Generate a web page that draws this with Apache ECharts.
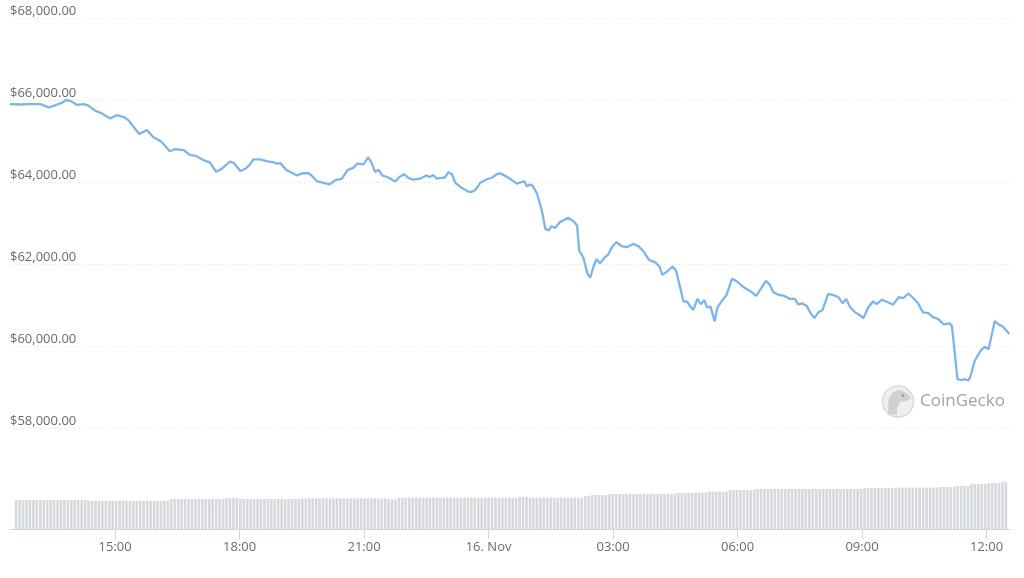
<!DOCTYPE html>
<html>
<head>
<meta charset="utf-8">
<script src="https://cdn.jsdelivr.net/npm/echarts@6.0.0/dist/echarts.min.js"></script>
<style>
  html, body { margin: 0; padding: 0; background: #ffffff; }
  #chart { width: 1024px; height: 578px; }
</style>
</head>
<body>
<div id="chart"></div>
<script>
// ---- Data ----
const priceTimes = [
  '2021-11-15 12:28','2021-11-15 12:43','2021-11-15 12:57','2021-11-15 13:12','2021-11-15 13:19','2021-11-15 13:24',
  '2021-11-15 13:33','2021-11-15 13:43','2021-11-15 13:49','2021-11-15 13:55','2021-11-15 14:05','2021-11-15 14:14',
  '2021-11-15 14:21','2021-11-15 14:31','2021-11-15 14:41','2021-11-15 14:53','2021-11-15 15:02','2021-11-15 15:12',
  '2021-11-15 15:19','2021-11-15 15:26','2021-11-15 15:35','2021-11-15 15:46','2021-11-15 15:55','2021-11-15 16:07',
  '2021-11-15 16:19','2021-11-15 16:27','2021-11-15 16:39','2021-11-15 16:48','2021-11-15 16:58','2021-11-15 17:08',
  '2021-11-15 17:17','2021-11-15 17:26','2021-11-15 17:34','2021-11-15 17:46','2021-11-15 17:52','2021-11-15 18:01',
  '2021-11-15 18:09','2021-11-15 18:15','2021-11-15 18:20','2021-11-15 18:30','2021-11-15 18:39','2021-11-15 18:49',
  '2021-11-15 18:54','2021-11-15 18:59','2021-11-15 19:08','2021-11-15 19:15','2021-11-15 19:23','2021-11-15 19:30',
  '2021-11-15 19:39','2021-11-15 19:44','2021-11-15 19:52','2021-11-15 20:01','2021-11-15 20:10','2021-11-15 20:18',
  '2021-11-15 20:28','2021-11-15 20:36','2021-11-15 20:45','2021-11-15 20:50','2021-11-15 20:59','2021-11-15 21:06',
  '2021-11-15 21:11','2021-11-15 21:16','2021-11-15 21:21','2021-11-15 21:26','2021-11-15 21:35','2021-11-15 21:45',
  '2021-11-15 21:51','2021-11-15 21:58','2021-11-15 22:04','2021-11-15 22:11','2021-11-15 22:21','2021-11-15 22:30',
  '2021-11-15 22:35','2021-11-15 22:40','2021-11-15 22:45','2021-11-15 22:52','2021-11-15 22:57','2021-11-15 23:02',
  '2021-11-15 23:07','2021-11-15 23:12','2021-11-15 23:21','2021-11-15 23:31','2021-11-15 23:36','2021-11-15 23:41',
  '2021-11-15 23:48','2021-11-15 23:57',
  '2021-11-16 00:05','2021-11-16 00:12','2021-11-16 00:17','2021-11-16 00:24','2021-11-16 00:31','2021-11-16 00:41',
  '2021-11-16 00:48','2021-11-16 00:52','2021-11-16 00:55','2021-11-16 01:00','2021-11-16 01:04','2021-11-16 01:10',
  '2021-11-16 01:17','2021-11-16 01:22','2021-11-16 01:27','2021-11-16 01:31','2021-11-16 01:36','2021-11-16 01:43',
  '2021-11-16 01:55','2021-11-16 02:03','2021-11-16 02:08','2021-11-16 02:11','2021-11-16 02:17','2021-11-16 02:23',
  '2021-11-16 02:27','2021-11-16 02:32','2021-11-16 02:36','2021-11-16 02:41','2021-11-16 02:48','2021-11-16 02:53',
  '2021-11-16 02:59','2021-11-16 03:05','2021-11-16 03:13','2021-11-16 03:20','2021-11-16 03:29','2021-11-16 03:37',
  '2021-11-16 03:44','2021-11-16 03:52','2021-11-16 04:01','2021-11-16 04:07','2021-11-16 04:11','2021-11-16 04:18',
  '2021-11-16 04:26','2021-11-16 04:31','2021-11-16 04:37','2021-11-16 04:42','2021-11-16 04:47','2021-11-16 04:51',
  '2021-11-16 04:56','2021-11-16 05:02','2021-11-16 05:07','2021-11-16 05:12','2021-11-16 05:16','2021-11-16 05:21',
  '2021-11-16 05:27','2021-11-16 05:31','2021-11-16 05:37','2021-11-16 05:44','2021-11-16 05:52','2021-11-16 05:59',
  '2021-11-16 06:06','2021-11-16 06:13','2021-11-16 06:21','2021-11-16 06:27','2021-11-16 06:35','2021-11-16 06:41',
  '2021-11-16 06:46','2021-11-16 06:52','2021-11-16 06:59','2021-11-16 07:06','2021-11-16 07:16','2021-11-16 07:23',
  '2021-11-16 07:28','2021-11-16 07:33','2021-11-16 07:40','2021-11-16 07:45','2021-11-16 07:51','2021-11-16 07:57',
  '2021-11-16 08:03','2021-11-16 08:11','2021-11-16 08:19','2021-11-16 08:26','2021-11-16 08:32','2021-11-16 08:37',
  '2021-11-16 08:43','2021-11-16 08:50','2021-11-16 08:57','2021-11-16 09:02','2021-11-16 09:09','2021-11-16 09:16',
  '2021-11-16 09:21','2021-11-16 09:29','2021-11-16 09:38','2021-11-16 09:45','2021-11-16 09:53','2021-11-16 10:00',
  '2021-11-16 10:07','2021-11-16 10:14','2021-11-16 10:21','2021-11-16 10:28','2021-11-16 10:36','2021-11-16 10:43',
  '2021-11-16 10:50','2021-11-16 10:58','2021-11-16 11:07','2021-11-16 11:10','2021-11-16 11:18','2021-11-16 11:24',
  '2021-11-16 11:29','2021-11-16 11:34','2021-11-16 11:37','2021-11-16 11:43','2021-11-16 11:52','2021-11-16 11:58',
  '2021-11-16 12:03','2021-11-16 12:12','2021-11-16 12:17','2021-11-16 12:24','2021-11-16 12:33'
];
const prices = [
  65900,65890,65900,65900,65850,65820,
  65870,65930,66000,65980,65880,65900,
  65870,65740,65670,65550,65630,65590,
  65510,65360,65170,65270,65100,64980,
  64750,64800,64780,64660,64630,64530,
  64480,64250,64320,64500,64460,64270,
  64330,64430,64550,64550,64510,64480,
  64450,64460,64290,64230,64160,64210,
  64220,64160,64020,63980,63940,64040,
  64080,64290,64350,64450,64430,64600,
  64460,64240,64300,64160,64110,64010,
  64120,64190,64100,64060,64080,64160,
  64120,64170,64080,64100,64110,64240,
  64190,63980,63860,63760,63760,63810,
  63980,64060,
  64110,64190,64210,64150,64080,63960,
  64000,64020,63900,63940,63900,63720,
  63310,62860,62820,62920,62880,63020,
  63130,63040,62940,62330,62160,61760,
  61670,61940,62120,62020,62160,62230,
  62430,62530,62430,62410,62490,62430,
  62310,62100,62040,61940,61740,61810,
  61940,61840,61430,61080,61090,60980,
  60880,61150,61020,61120,60940,60960,
  60600,60940,61090,61240,61640,61580,
  61470,61390,61310,61220,61430,61590,
  61510,61310,61250,61230,61150,61150,
  61010,61040,60980,60820,60680,60820,
  60880,61270,61240,61190,61040,61150,
  60940,60820,60750,60680,60940,61090,
  61020,61130,61060,61010,61190,61170,
  61280,61170,61050,60820,60800,60700,
  60660,60530,60550,60490,59190,59170,
  59190,59160,59270,59640,59900,59980,
  59920,60610,60530,60470,60290
];
// 24h rolling volume (billions USD), one bar per 5 minutes, one row per hour
const volumeStart = '2021-11-15 12:35';
const volumeStepMinutes = 5;
const volumes = [
  29,29,29,29,29,29,29,29,29,29,29,29,
  29,29,29,29,29,29,29,29,29,28.3,28.3,28.3,
  28.3,28.3,28.3,28.3,28.3,28.3,28.3,28.3,28.3,28.3,28.3,28.3,
  28.3,28.3,28.3,28.3,28.3,28.3,28.3,28.3,28.3,30,30,30,
  30,30,30,30,30,30,30,30,30,30,30,30,
  30,31,31,31,31,30,30,30,30,30,30,30,
  30,30,30,30,30,30,30,30,30,30,30,30.6,
  30.6,30.6,30.6,30.6,30.6,30.6,30.6,30.6,30.6,30.6,30.6,30.6,
  30.6,30.6,30.6,30.6,30.6,30.6,30.6,30.6,30.6,30.6,30.6,30.6,
  29.8,29.8,29.8,31.3,31.3,31.3,31.3,31.3,31.3,31.3,31.3,31.3,
  31.3,31.3,31.3,31.3,31.3,31.3,31.3,31.3,31.3,31.3,31.3,31.3,
  31.3,31.3,31.3,31.3,31.3,31.3,31.3,31.3,31.3,31.3,31.3,31.3,
  31.3,31.3,32.3,32.3,32.3,31.3,31.3,31.3,31.3,31.3,31.3,31.3,
  31.3,31.3,31.3,31.3,31.3,31.3,31.3,31.3,31.3,33,33,34,
  34,34,34,34,35,35,35,35,35,35,35,35,
  35,35.2,35.2,35.2,35.2,35.2,35.2,35.2,35.2,35.2,35.2,35.2,
  36,36,36,36,36,36,36.5,36.5,36.5,37.3,37.3,37.3,
  37.3,37.3,37.3,39,39,39,39,39,39,39,39,40,
  40,40,40,40,40,40,40,40,40,40,40,40,
  40,40,40,40,40,40,40,40,40,40,40,40,
  40,40,40,40,40,40,41,41,41,41,41,41,
  41,41,41.3,41.3,41.3,41.3,41.3,41.3,41.3,41.3,41.3,41.3,
  41.3,41.3,41.3,41.3,42,42,42,42,42,43,43,43,
  43,45,45,45,45,45,46,46,46,46,47.3,47.3
];
const priceTicks = [58000, 60000, 62000, 64000, 66000, 68000];
// x tick labels every 3 hours, starting 15 Nov 12:00
const xTickLabels = ['12:00', '15:00', '18:00', '21:00', '16. Nov', '03:00', '06:00', '09:00', '12:00', '15:00'];
const axisStart = '2021-11-15 12:28';
const axisEnd = '2021-11-16 12:34';
const tickAxisStart = '2021-11-15 12:00';

// ---- Build series data ----
const toMs = s => new Date(s.replace(' ', 'T')).getTime();
const priceData = priceTimes.map((t, i) => [toMs(t), prices[i]]);
const vStart = toMs(volumeStart);
const volumeData = volumes.map((v, i) => [vStart + i * volumeStepMinutes * 60000, v]);

function fmtPrice(v) {
  return '$' + String(v).replace(/\B(?=(\d{3})+(?!\d))/g, ',') + '.00';
}

const FONT = '"Open Sans", "Noto Sans", sans-serif';
const TEXT_COLOR = '#6c6878';

// Layout of the plotting band (pixels); the label axis extends it to whole 3-hour marks
const PLOT_LEFT = 10, PLOT_RIGHT = 1010, W = 1024;
const t0 = toMs(axisStart), t1 = toMs(axisEnd);
const pxPerMs = (PLOT_RIGHT - PLOT_LEFT) / (t1 - t0);
const tickHours = (xTickLabels.length - 1) * 3;
const tickT0 = toMs(tickAxisStart);
const tickT1 = tickT0 + tickHours * 3600000;
const tickLeft = PLOT_LEFT - (t0 - tickT0) * pxPerMs;
const tickRight = W - (PLOT_LEFT + (tickT1 - t0) * pxPerMs);

const chart = echarts.init(document.getElementById('chart'), null, { renderer: 'canvas' });
chart.setOption({
  animation: false,
  backgroundColor: '#ffffff',
  grid: [
    { left: PLOT_LEFT, right: W - PLOT_RIGHT, top: 18, bottom: 150, outerBoundsMode: 'none', containLabel: false },
    { left: PLOT_LEFT, right: W - PLOT_RIGHT, top: 379, bottom: 49, outerBoundsMode: 'none', containLabel: false },
    { left: tickLeft, right: tickRight, top: 379, bottom: 49, outerBoundsMode: 'none', containLabel: false }
  ],
  xAxis: [
    { type: 'time', gridIndex: 0, min: t0, max: t1, show: false },
    {
      type: 'time', gridIndex: 1, min: t0, max: t1,
      axisLine: { show: true, lineStyle: { color: '#ccd6eb', width: 1 } },
      axisTick: { show: false }, axisLabel: { show: false }, splitLine: { show: false }
    },
    {
      type: 'value', gridIndex: 2, min: 0, max: tickHours, interval: 3,
      axisLine: { show: false },
      axisTick: { show: true, length: 10, lineStyle: { color: '#ccd6eb' } },
      axisLabel: {
        formatter: v => xTickLabels[Math.round(v / 3)],
        color: TEXT_COLOR, fontFamily: FONT, fontSize: 13,
        margin: 12, showMinLabel: false, showMaxLabel: false
      },
      splitLine: { show: false }
    }
  ],
  yAxis: [
    {
      type: 'value', gridIndex: 0,
      min: priceTicks[0], max: priceTicks[priceTicks.length - 1], interval: 2000,
      axisLine: { show: false }, axisTick: { show: false },
      axisLabel: {
        inside: true, margin: 0, verticalAlign: 'bottom',
        formatter: fmtPrice, color: TEXT_COLOR, fontFamily: FONT, fontSize: 13
      },
      splitLine: { show: true, lineStyle: { color: '#e3e3e3', type: [1, 2], width: 1 } }
    },
    { type: 'value', gridIndex: 1, min: 0, max: 150, show: false },
    { type: 'value', gridIndex: 2, min: 0, max: 1, show: false }
  ],
  graphic: [
    { type: 'circle', shape: { cx: 898, cy: 401.5, r: 15.5 }, style: { fill: '#efefef', stroke: '#d9d9d9', lineWidth: 1.5 }, z: 1 },
    { type: 'polygon', shape: { points: [[888,414],[888.5,400],[893,392],[900,390],[907,393],[911,398],[907,401],[900,402],[897,408],[897,415]] }, style: { fill: '#d0d0d0' }, z: 2 },
    { type: 'circle', shape: { cx: 903, cy: 395.5, r: 1.3 }, style: { fill: '#b08a6a' }, z: 3 },
    { type: 'text', x: 920, y: 401.5, style: { text: 'CoinGecko', fill: '#a3a3a3', font: '17px ' + FONT, verticalAlign: 'middle', align: 'left' }, z: 3 }
  ],
  series: [
    {
      type: 'bar', xAxisIndex: 1, yAxisIndex: 1, data: volumeData,
      barWidth: 2.6, itemStyle: { color: '#d5d8dc' }, silent: true, z: 1
    },
    {
      type: 'line', xAxisIndex: 0, yAxisIndex: 0, data: priceData,
      showSymbol: false, symbol: 'none',
      lineStyle: { color: '#7cb5ec', width: 2.3 }, z: 5
    }
  ]
});
</script>
</body>
</html>
